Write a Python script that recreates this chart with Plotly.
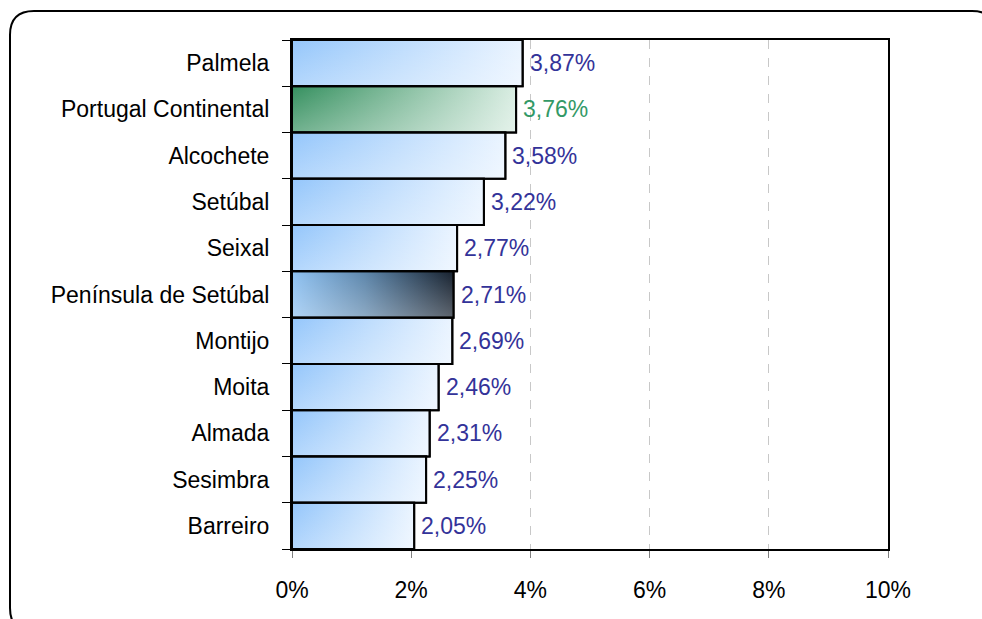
import plotly.graph_objects as go

categories = ["Palmela", "Portugal Continental", "Alcochete", "Setúbal", "Seixal",
              "Península de Setúbal", "Montijo", "Moita", "Almada", "Sesimbra", "Barreiro"]
values = [3.87, 3.76, 3.58, 3.22, 2.77, 2.71, 2.69, 2.46, 2.31, 2.25, 2.05]
x_ticks = [0, 2, 4, 6, 8, 10]
x_tick_labels = ["0%", "2%", "4%", "6%", "8%", "10%"]

W, H = 982, 619
ML, MR, MT, MB = 292, 94, 40, 70
PW, PH = W - ML - MR, H - MT - MB
FONT = "Liberation Sans, Arial"
FS = 23

DEFAULT_SCALE = [[0, "#94c6fb"], [1, "#eaf4ff"]]
SPECIAL = {
    "Portugal Continental": ([[0, "#35905f"], [1, "#d9ede2"]], "#339966"),
    "Península de Setúbal": ([[0, "#8fc2f2"], [0.45, "#5d86ab"], [1, "#17212e"]], "#333399"),
}
LABEL_COLOR = "#333399"

fig = go.Figure()
annotations = []
for i, (cat, v) in enumerate(zip(categories, values)):
    scale, tcol = SPECIAL.get(cat, (DEFAULT_SCALE, LABEL_COLOR))
    ys = [i - 0.5, i - 0.5, i + 0.5, i + 0.5, i - 0.5]
    xs = [0, v, v, 0, 0]
    fig.add_trace(go.Scatter(
        x=xs, y=ys, mode="lines", fill="toself",
        fillgradient=dict(type="horizontal", colorscale=scale),
        line=dict(color="black", width=2),
        hoverinfo="skip", showlegend=False,
    ))
    fig.add_trace(go.Scatter(
        x=xs, y=ys, mode="lines", fill="toself",
        fillgradient=dict(type="vertical",
                          colorscale=[[0, "rgba(255,255,255,0.3)"], [1, "rgba(255,255,255,0)"]]),
        line=dict(color="black", width=2),
        hoverinfo="skip", showlegend=False,
    ))
    annotations.append(dict(
        x=v, y=i, xref="x", yref="y", text=f"{v:.2f}".replace(".", ",") + "%",
        showarrow=False, xanchor="left", yanchor="middle", xshift=5,
        font=dict(color=tcol, size=FS, family=FONT),
    ))

n = len(categories)
fig.update_yaxes(
    range=[n - 0.5, -0.5], tickmode="array",
    tickvals=list(range(n)), ticktext=categories, ticks="",
    showline=True, linecolor="black", linewidth=2, mirror=True,
    showgrid=False, zeroline=False, ticklabelstandoff=16,
    tickfont=dict(size=FS, color="black", family=FONT),
    minor=dict(tickvals=[k - 0.5 for k in range(n + 1)], ticks="outside",
               ticklen=8, tickcolor="black", tickwidth=1, showgrid=False),
)
fig.update_xaxes(
    range=[0, 10], tickmode="array", tickvals=x_ticks, ticktext=x_tick_labels,
    ticks="outside", ticklen=7, tickcolor="#808080", tickwidth=1,
    showline=True, linecolor="black", linewidth=2, mirror=True,
    showgrid=True, gridcolor="#c8c8c8", griddash="dash", gridwidth=1,
    zeroline=False, ticklabelstandoff=12,
    tickfont=dict(size=FS, color="black", family=FONT),
)

def px(x):
    return (x - ML) / PW

def py(y):
    return (H - MB - y) / PH

x0, y0, x1, y1, r = 10, 11, 996, 632, 24
path = (f"M {px(x0 + r)},{py(y0)} L {px(x1 - r)},{py(y0)} Q {px(x1)},{py(y0)} {px(x1)},{py(y0 + r)} "
        f"L {px(x1)},{py(y1 - r)} Q {px(x1)},{py(y1)} {px(x1 - r)},{py(y1)} "
        f"L {px(x0 + r)},{py(y1)} Q {px(x0)},{py(y1)} {px(x0)},{py(y1 - r)} "
        f"L {px(x0)},{py(y0 + r)} Q {px(x0)},{py(y0)} {px(x0 + r)},{py(y0)} Z")
fig.add_shape(type="path", path=path, xref="paper", yref="paper",
              line=dict(color="black", width=2), layer="above")

fig.update_layout(
    width=W, height=H, margin=dict(l=ML, r=MR, t=MT, b=MB, autoexpand=False),
    plot_bgcolor="white", paper_bgcolor="white",
    font=dict(family=FONT, size=FS, color="black"),
    showlegend=False, annotations=annotations,
)
fig.write_html("out.html", config={"displayModeBar": False},
               post_script="document.body.style.margin='0';document.body.style.overflow='hidden';")
